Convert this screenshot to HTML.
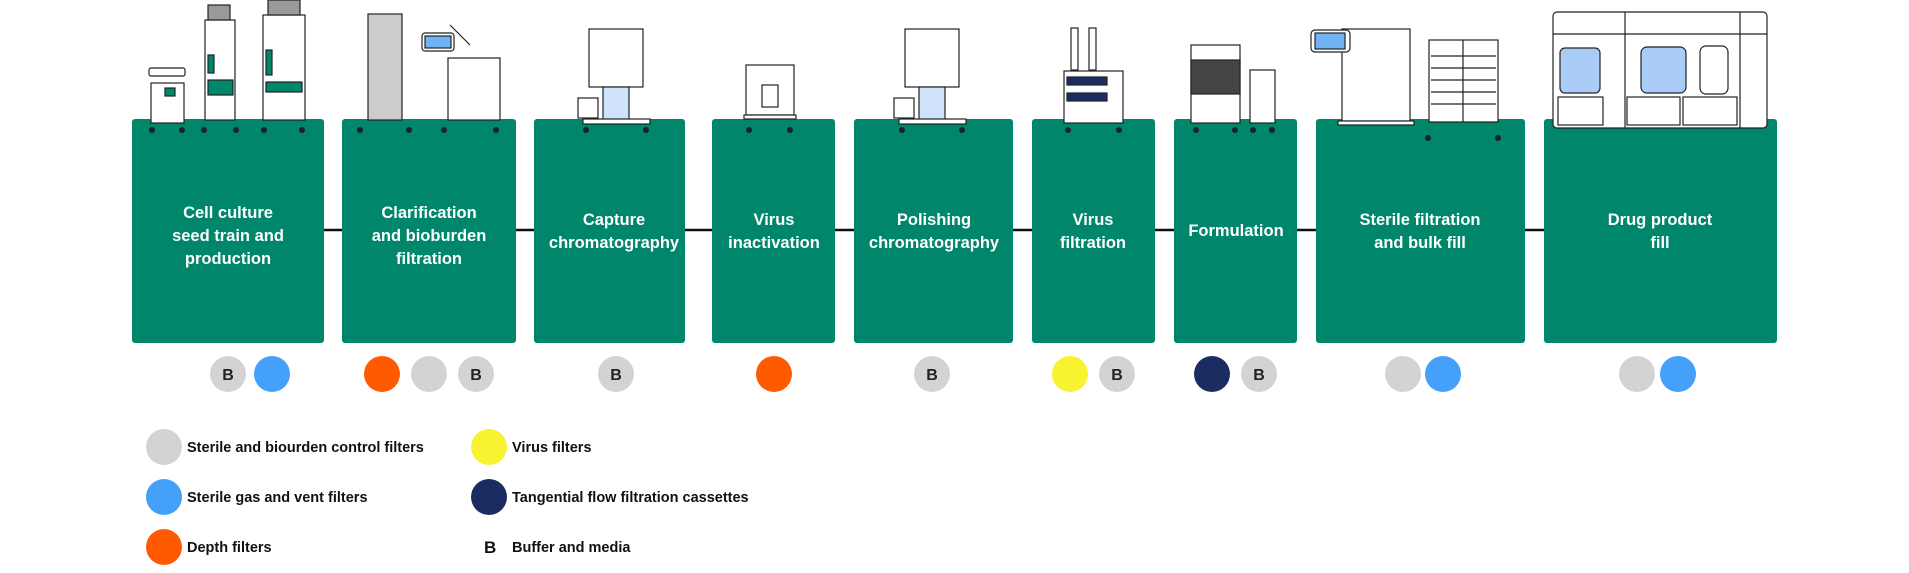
<!DOCTYPE html>
<html><head><meta charset="utf-8"><style>
body{margin:0;background:#fff;width:1909px;height:568px;overflow:hidden}
svg text{font-family:"Liberation Sans",sans-serif;font-weight:bold}
</style></head><body>
<svg width="1909" height="568" viewBox="0 0 1909 568" xmlns="http://www.w3.org/2000/svg">
<line x1="324" y1="230" x2="1544" y2="230" stroke="#111" stroke-width="2.5"/>
<g fill="#00876b">
<rect x="132" y="119" width="192" height="224" rx="3"/>
<rect x="342" y="119" width="174" height="224" rx="3"/>
<rect x="534" y="119" width="151" height="224" rx="3"/>
<rect x="712" y="119" width="123" height="224" rx="3"/>
<rect x="854" y="119" width="159" height="224" rx="3"/>
<rect x="1032" y="119" width="123" height="224" rx="3"/>
<rect x="1174" y="119" width="123" height="224" rx="3"/>
<rect x="1316" y="119" width="209" height="224" rx="3"/>
<rect x="1544" y="119" width="233" height="224" rx="3"/>
</g>
<g fill="#fff" font-size="16.5" text-anchor="middle">
<text x="228" y="218">Cell culture</text><text x="228" y="241">seed train and</text><text x="228" y="264">production</text>
<text x="429" y="218">Clarification</text><text x="429" y="241">and bioburden</text><text x="429" y="264">filtration</text>
<text x="614" y="225">Capture</text><text x="614" y="248">chromatography</text>
<text x="774" y="225">Virus</text><text x="774" y="248">inactivation</text>
<text x="934" y="225">Polishing</text><text x="934" y="248">chromatography</text>
<text x="1093" y="225">Virus</text><text x="1093" y="248">filtration</text>
<text x="1236" y="236">Formulation</text>
<text x="1420" y="225">Sterile filtration</text><text x="1420" y="248">and bulk fill</text>
<text x="1660" y="225">Drug product</text><text x="1660" y="248">fill</text>
</g>
<!-- equipment -->
<g stroke="#222" stroke-width="1.2" fill="#fff">
<!-- box1 -->
<rect x="149" y="68" width="36" height="8" rx="2"/><rect x="151" y="83" width="33" height="40"/><rect x="165" y="88" width="10" height="8" fill="#00876b"/>
<rect x="205" y="20" width="30" height="100"/><rect x="208" y="5" width="22" height="15" fill="#999"/><rect x="208" y="80" width="25" height="15" fill="#00876b"/><rect x="208" y="55" width="6" height="18" fill="#00876b"/>
<rect x="263" y="15" width="42" height="105"/><rect x="268" y="0" width="32" height="15" fill="#999"/><rect x="266" y="82" width="36" height="10" fill="#00876b"/><rect x="266" y="50" width="6" height="25" fill="#00876b"/>
<!-- box2 -->
<rect x="368" y="14" width="34" height="106" fill="#ccc"/>
<rect x="448" y="58" width="52" height="62"/><rect x="422" y="33" width="32" height="18" rx="3"/><rect x="425" y="36" width="26" height="12" fill="#6fb3f5"/><line x1="450" y1="25" x2="470" y2="45"/>
<!-- box3 -->
<rect x="589" y="29" width="54" height="58"/><rect x="603" y="87" width="26" height="33" fill="#cfe3fb"/><rect x="578" y="98" width="20" height="20"/><rect x="583" y="119" width="67" height="5"/>
<!-- box4 -->
<rect x="746" y="65" width="48" height="50"/><rect x="762" y="85" width="16" height="22"/><rect x="744" y="115" width="52" height="4"/>
<!-- box5 -->
<rect x="905" y="29" width="54" height="58"/><rect x="919" y="87" width="26" height="33" fill="#cfe3fb"/><rect x="894" y="98" width="20" height="20"/><rect x="899" y="119" width="67" height="5"/>
<!-- box6 -->
<rect x="1071" y="28" width="7" height="42"/><rect x="1089" y="28" width="7" height="42"/><rect x="1064" y="71" width="59" height="52"/><rect x="1067" y="77" width="40" height="8" fill="#1b2c63"/><rect x="1067" y="93" width="40" height="8" fill="#1b2c63"/>
<!-- box7 -->
<rect x="1191" y="45" width="49" height="78"/><rect x="1191" y="60" width="49" height="34" fill="#444"/><rect x="1250" y="70" width="25" height="53"/>
<!-- box8 -->
<rect x="1342" y="29" width="68" height="92"/><rect x="1311" y="30" width="39" height="22" rx="4"/><rect x="1315" y="33" width="30" height="16" fill="#6fb3f5"/><rect x="1338" y="121" width="76" height="4"/>
<rect x="1429" y="40" width="69" height="82"/><line x1="1463" y1="40" x2="1463" y2="122"/>
<line x1="1431" y1="56" x2="1496" y2="56"/><line x1="1431" y1="68" x2="1496" y2="68"/><line x1="1431" y1="80" x2="1496" y2="80"/><line x1="1431" y1="92" x2="1496" y2="92"/><line x1="1431" y1="104" x2="1496" y2="104"/>
<!-- box9 -->
<rect x="1553" y="12" width="214" height="116" rx="4"/><line x1="1553" y1="34" x2="1767" y2="34"/><line x1="1625" y1="12" x2="1625" y2="128"/><line x1="1740" y1="12" x2="1740" y2="128"/>
<rect x="1560" y="48" width="40" height="45" rx="5" fill="#a9cdf6"/><rect x="1641" y="47" width="45" height="46" rx="6" fill="#a9cdf6"/><rect x="1700" y="46" width="28" height="48" rx="6"/>
<rect x="1558" y="97" width="45" height="28"/><rect x="1627" y="97" width="53" height="28"/><rect x="1683" y="97" width="54" height="28"/>
</g>
<g fill="#222">
<circle cx="152" cy="130" r="3"/><circle cx="182" cy="130" r="3"/><circle cx="204" cy="130" r="3"/><circle cx="236" cy="130" r="3"/><circle cx="264" cy="130" r="3"/><circle cx="302" cy="130" r="3"/>
<circle cx="360" cy="130" r="3"/><circle cx="409" cy="130" r="3"/><circle cx="444" cy="130" r="3"/><circle cx="496" cy="130" r="3"/>
<circle cx="586" cy="130" r="3"/><circle cx="646" cy="130" r="3"/><circle cx="749" cy="130" r="3"/><circle cx="790" cy="130" r="3"/>
<circle cx="902" cy="130" r="3"/><circle cx="962" cy="130" r="3"/><circle cx="1068" cy="130" r="3"/><circle cx="1119" cy="130" r="3"/>
<circle cx="1196" cy="130" r="3"/><circle cx="1235" cy="130" r="3"/><circle cx="1253" cy="130" r="3"/><circle cx="1272" cy="130" r="3"/>
<circle cx="1428" cy="138" r="3"/><circle cx="1498" cy="138" r="3"/>
</g>
<!-- circles -->
<g>
<ellipse cx="228" cy="374" rx="18" ry="18" fill="#d3d3d3"/><ellipse cx="272" cy="374" rx="18" ry="18" fill="#44a0f8"/>
<ellipse cx="382" cy="374" rx="18" ry="18" fill="#ff5a00"/><ellipse cx="429" cy="374" rx="18" ry="18" fill="#d3d3d3"/><ellipse cx="476" cy="374" rx="18" ry="18" fill="#d3d3d3"/>
<ellipse cx="616" cy="374" rx="18" ry="18" fill="#d3d3d3"/>
<ellipse cx="774" cy="374" rx="18" ry="18" fill="#ff5a00"/>
<ellipse cx="932" cy="374" rx="18" ry="18" fill="#d3d3d3"/>
<ellipse cx="1070" cy="374" rx="18" ry="18" fill="#f9f230"/><ellipse cx="1117" cy="374" rx="18" ry="18" fill="#d3d3d3"/>
<ellipse cx="1212" cy="374" rx="18" ry="18" fill="#1b2c63"/><ellipse cx="1259" cy="374" rx="18" ry="18" fill="#d3d3d3"/>
<ellipse cx="1403" cy="374" rx="18" ry="18" fill="#d3d3d3"/><ellipse cx="1443" cy="374" rx="18" ry="18" fill="#44a0f8"/>
<ellipse cx="1637" cy="374" rx="18" ry="18" fill="#d3d3d3"/><ellipse cx="1678" cy="374" rx="18" ry="18" fill="#44a0f8"/>
</g>
<g fill="#222" font-size="16" font-weight="normal" text-anchor="middle">
<text x="228" y="380">B</text><text x="476" y="380">B</text><text x="616" y="380">B</text><text x="932" y="380">B</text><text x="1117" y="380">B</text><text x="1259" y="380">B</text>
</g>
<!-- legend -->
<ellipse cx="164" cy="447" rx="18" ry="18" fill="#d3d3d3"/>
<ellipse cx="164" cy="497" rx="18" ry="18" fill="#44a0f8"/>
<ellipse cx="164" cy="547" rx="18" ry="18" fill="#ff5a00"/>
<ellipse cx="489" cy="447" rx="18" ry="18" fill="#f9f230"/>
<ellipse cx="489" cy="497" rx="18" ry="18" fill="#1b2c63"/>
<g fill="#111" font-size="14.5">
<text x="187" y="452">Sterile and biourden control filters</text>
<text x="187" y="502">Sterile gas and vent filters</text>
<text x="187" y="552">Depth filters</text>
<text x="512" y="452">Virus filters</text>
<text x="512" y="502">Tangential flow filtration cassettes</text>
<text x="484" y="553" font-size="17">B</text>
<text x="512" y="552">Buffer and media</text>
</g>
</svg>
</body></html>
